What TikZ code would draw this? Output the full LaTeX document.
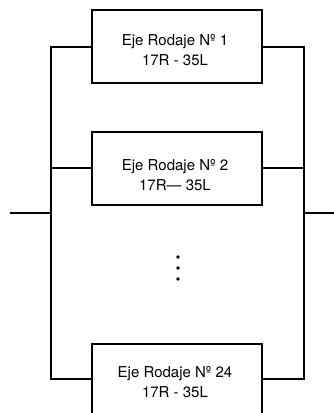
\documentclass[tikz,border=0pt]{standalone}
\usepackage{fontspec}
\setmainfont{TeX Gyre Heros}
\begin{document}
\begin{tikzpicture}[x=1pt,y=-1pt,
  line width=1.7pt,
  box/.style={draw=black, line width=1.7pt, minimum width=170pt, minimum height=73pt, inner sep=0pt},
  lbl/.style={align=center, font=\fontsize{15}{20}\selectfont, inner sep=0pt},
  wire/.style={draw=black, line width=1.7pt},
  dot/.style={circle, fill=black, minimum size=3.6pt, inner sep=0pt}]
\useasboundingbox (0,0) rectangle (334,413);
\clip (0,0) rectangle (334,413);
\fill[white] (0,0) rectangle (334,413);
% boxes
\node[box] (b1) at (177,46.5) {};
\node[box] (b2) at (177,168.5) {};
\node[box] (b3) at (177,380.5) {};
\node[lbl] (t1) at (175,50.5) {Eje Rodaje Nº 1\\17R - 35L};
\node[lbl] (t2) at (175,175.5) {Eje Rodaje Nº 2\\17R— 35L};
\node[lbl] (t3) at (175,382) {Eje Rodaje Nº 24\\17R - 35L};
% bus coordinates
\coordinate (lt) at (51,47);
\coordinate (lm) at (51,213);
\coordinate (lb) at (51,379);
\coordinate (rt) at (304,47);
\coordinate (rm) at (304,213);
\coordinate (rb) at (304,379);
\coordinate (in) at (10,213);
\coordinate (out) at (334,213);
\coordinate (l2) at (51,168);
\coordinate (r2) at (304,168);
% wires
\draw[wire] (b1.west |- lt) -- (lt) -- (lb) -- (b3.west |- lb);
\draw[wire] (b1.east |- rt) -- (rt) -- (rb) -- (b3.east |- rb);
\draw[wire] (l2) -- (b2.west |- l2);
\draw[wire] (r2) -- (b2.east |- r2);
\draw[wire] (in) -- (lm);
\draw[wire] (rm) -- (out);
% dots
\node[dot] (d1) at (178,257) {};
\node[dot] (d2) at (178,268) {};
\node[dot] (d3) at (178,279) {};
\end{tikzpicture}
\end{document}
